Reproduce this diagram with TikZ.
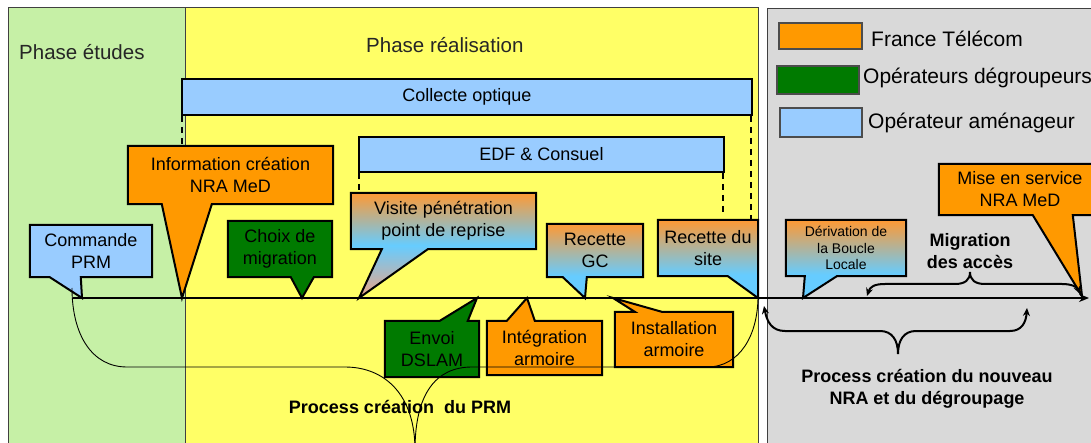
\documentclass[tikz,border=0pt]{standalone}
\usepackage{fontspec}
\setmainfont{Liberation Sans}
\usetikzlibrary{arrows.meta,calc}
\definecolor{bgGreen}{HTML}{C6F0A6}
\definecolor{bgYellow}{HTML}{FFFF66}
\definecolor{bgGray}{HTML}{D9D9D9}
\definecolor{ftOrange}{HTML}{FF9900}
\definecolor{opGreen}{HTML}{007A00}
\definecolor{amBlue}{HTML}{99CCFF}
\definecolor{grOrange}{HTML}{FF9933}
\definecolor{grBlue}{HTML}{66CCFF}
\definecolor{grSalmon}{HTML}{EFA585}
\pgfdeclareverticalshading{ftam}{100bp}{color(0bp)=(grBlue); color(25bp)=(grBlue); color(40bp)=(grBlue); color(75bp)=(grOrange); color(100bp)=(grOrange)}
\pgfdeclareverticalshading{ftamv}{100bp}{color(0bp)=(grSalmon); color(25bp)=(grSalmon); color(50bp)=(grBlue); color(75bp)=(grOrange); color(100bp)=(grOrange)}
\pgfdeclarelayer{bg}
\pgfdeclarelayer{shapes}
\pgfsetlayers{bg,shapes,main}
\begin{document}
\begin{tikzpicture}[x=1pt,y=-1pt,
  txt/.style={font=\fontsize{18}{22}\selectfont, align=center, inner sep=0pt, text=black},
  btxt/.style={font=\fontsize{18}{22}\selectfont\bfseries, align=center, inner sep=0pt},
  smalltxt/.style={font=\fontsize{14}{16.5}\selectfont, align=center, inner sep=0pt},
  cshape/.style={draw=black, line width=2pt, line join=miter},
  bar/.style={draw=black, line width=2pt, fill=amBlue, inner sep=0pt, font=\fontsize{18}{22}\selectfont},
  dashline/.style={line width=2pt, dash pattern=on 6pt off 5pt},
  legbox/.style={draw=black!70, line width=1.2pt, inner sep=0pt},
  legtxt/.style={font=\fontsize{21}{25}\selectfont, anchor=west, inner sep=0pt},
  phasetxt/.style={font=\fontsize{20.5}{24}\selectfont, text=black!85, anchor=west, inner sep=0pt},
  region/.style={draw=black!75, line width=0.8pt},
  curlyarrow/.style={line width=2pt, {Stealth[length=8pt,width=7pt]}-{Stealth[length=8pt,width=7pt]}},
  thinc/.style={line width=0.9pt},
]
\useasboundingbox (0,0) rectangle (1091,443);

% ---------- background regions ----------
\begin{pgfonlayer}{bg}
\fill[white] (0,0) rectangle (1091,443);
\filldraw[region, fill=bgGreen] (8,7) rectangle (185,460);
\filldraw[region, fill=bgYellow] (185,7) rectangle (758,460);
\filldraw[region, fill=bgGray] (767,8) rectangle (1110,460);
\end{pgfonlayer}

\node[phasetxt] (ph1) at (19,52) {Phase études};
\node[phasetxt] (ph2) at (366,45) {Phase réalisation};

% ---------- legend ----------
\node[legbox, fill=ftOrange, minimum width=83pt, minimum height=26pt] (lg1) at (820.5,36) {};
\node[legtxt] (lt1) at (871,39) {France Télécom};
\node[legbox, fill=opGreen, minimum width=82pt, minimum height=28pt] (lg2) at (818,80) {};
\node[legtxt] (lt2) at (863,78) {Opérateurs dégroupeurs};
\node[legbox, fill=amBlue, minimum width=82pt, minimum height=29pt] (lg3) at (821,122.5) {};
\node[legtxt] (lt3) at (868,123) {Opérateur aménageur};

% ---------- bars ----------
\node[bar, minimum width=570pt, minimum height=36pt] (coll) at (467,97) {Collecte optique};
\node[bar, minimum width=365pt, minimum height=35pt] (edf) at (541.5,154.5) {EDF \& Consuel};

% ---------- callout anchors (rectangles) ----------
\node[txt, minimum width=122pt, minimum height=52pt] (cmd) at (91,251) {Commande\\PRM};
\node[txt, minimum width=205pt, minimum height=58pt] (info) at (230.5,175) {Information création\\NRA MeD};
\node[txt, minimum width=104pt, minimum height=56pt] (choix) at (280,249) {Choix de\\migration};
\node[txt, minimum width=185pt, minimum height=56pt] (visite) at (443.5,221) {Visite pénétration\\point de reprise};
\node[txt, minimum width=96pt, minimum height=53pt] (rgc) at (595,250.5) {Recette\\GC};
\node[txt, minimum width=100pt, minimum height=56pt] (rsite) at (708,248) {Recette du\\site};
\node[smalltxt, minimum width=120pt, minimum height=56pt] (deriv) at (846,248) {Dérivation de\\la Boucle\\Locale};
\node[txt, minimum width=162pt, minimum height=51pt] (mes) at (1020,189.5) {Mise en service\\NRA MeD};
\node[txt, minimum width=94pt, minimum height=56pt] (envoi) at (432,349) {Envoi\\DSLAM};
\node[txt, minimum width=115pt, minimum height=54pt] (integ) at (544.5,348) {Intégration\\armoire};
\node[txt, minimum width=118pt, minimum height=55pt] (inst) at (674,339.5) {Installation\\armoire};

% pointer tips on the time line
\coordinate (tcmd) at (82,298);
\coordinate (tinfo) at (182,298);
\coordinate (tchoix) at (302,298);
\coordinate (tvisite) at (359,298);
\coordinate (trgc) at (585,298);
\coordinate (trsite) at (758,298);
\coordinate (tderiv) at (803,298);
\coordinate (tmes) at (1082,296);
\coordinate (tenvoi) at (477,298);
\coordinate (tinteg) at (527,298);
\coordinate (tinst) at (613,298);

\begin{pgfonlayer}{shapes}
% pointers downward
\filldraw[cshape, fill=amBlue] (cmd.north west) -- (cmd.north east) -- (cmd.south east)
  -- ($(cmd.south west)+(51,0)$) -- (tcmd) -- ($(cmd.south west)+(20,0)$) -- (cmd.south west) -- cycle;
\filldraw[cshape, fill=ftOrange] (info.north west) -- (info.north east) -- (info.south east)
  -- ($(info.south west)+(84,0)$) -- (tinfo) -- ($(info.south west)+(34,0)$) -- (info.south west) -- cycle;
\filldraw[cshape, fill=opGreen] (choix.north west) -- (choix.north east) -- (choix.south east)
  -- ($(choix.south west)+(86,0)$) -- (tchoix) -- ($(choix.south west)+(63,0)$) -- (choix.south west) -- cycle;
\shadedraw[cshape, shading=ftamv] (visite.north west) -- (visite.north east) -- (visite.south east)
  -- ($(visite.south west)+(77,0)$) -- (tvisite) -- ($(visite.south west)+(31,0)$) -- (visite.south west) -- cycle;
\shadedraw[cshape, shading=ftam] (rgc.north west) -- (rgc.north east) -- (rgc.south east)
  -- ($(rgc.south west)+(40,0)$) -- (trgc) -- ($(rgc.south west)+(16,0)$) -- (rgc.south west) -- cycle;
\shadedraw[cshape, shading=ftam] (rsite.north west) -- (rsite.north east) -- (trsite)
  -- ($(rsite.south west)+(70,0)$) -- (rsite.south west) -- cycle;
\shadedraw[cshape, shading=ftam] (deriv.north west) -- (deriv.north east) -- (deriv.south east)
  -- ($(deriv.south west)+(51,0)$) -- (tderiv) -- ($(deriv.south west)+(19,0)$) -- (deriv.south west) -- cycle;
\filldraw[cshape, fill=ftOrange] (mes.north west) -- (mes.north east) -- (mes.south east)
  -- ($(mes.south west)+(134,0)$) -- (tmes) -- ($(mes.south west)+(94,0)$) -- (mes.south west) -- cycle;
% pointers upward
\filldraw[cshape, fill=opGreen] (envoi.south west) -- (envoi.north west) -- ($(envoi.north west)+(55,0)$)
  -- (tenvoi) -- ($(envoi.north west)+(83,0)$) -- (envoi.north east) -- (envoi.south east) -- cycle;
\filldraw[cshape, fill=ftOrange] (integ.south west) -- (integ.north west) -- ($(integ.north west)+(20,0)$)
  -- (tinteg) -- ($(integ.north west)+(48,0)$) -- (integ.north east) -- (integ.south east) -- cycle;
\filldraw[cshape, fill=ftOrange] (inst.south west) -- (inst.north west) -- ($(inst.north west)+(20,0)$)
  -- (tinst) -- ($(inst.north west)+(47,0)$) -- (inst.north east) -- (inst.south east) -- cycle;
\end{pgfonlayer}

% ---------- dashed links ----------
\coordinate (cl) at ($(coll.south west)+(1,0)$);
\coordinate (cr) at ($(coll.south east)+(-2,0)$);
\coordinate (el) at ($(edf.south west)+(1,0)$);
\coordinate (er) at ($(edf.south east)+(-2,0)$);
\draw[dashline] (cl) -- (cl |- info.north);
\draw[dashline] (cr) -- (cr |- rsite.north);
\draw[dashline] (el) -- (el |- visite.north);
\draw[dashline] (er) -- ($(er |- rsite.north)+(0,-4)$);

% ---------- time line ----------
\coordinate (tl0) at (73,298);
\coordinate (tl1) at (1089,298);
\draw[line width=2pt, -{Stealth[length=10pt,width=8pt]}] (tl0) -- (tl1);

% ---------- thin brace-like curve ----------
\coordinate (c0) at (72,288);
\coordinate (cbot) at (415,450);
\coordinate (c1) at (758,296);
\draw[thinc] (c0) .. controls (72,335) and (92,367) .. (127,367) -- (345,367)
  .. controls (385,367) and (415,395) .. (cbot);
\draw[thinc] (cbot) .. controls (415,395) and (435,367) .. (472,367) -- (707,367)
  .. controls (740,367) and (758,335) .. (c1);

% ---------- curly arrows ----------
\coordinate (ma) at (867,296);
\coordinate (mb) at (1080,294);
\draw[curlyarrow] (ma) .. controls (870,287) and (874,284) .. (885,284) -- (955,284)
  .. controls (965,284) and (970,280) .. (970,272)
  .. controls (970,280) and (975,284) .. (985,284) -- (1062,284)
  .. controls (1072,284) and (1077,287) .. (mb);
\coordinate (pa) at (764,306);
\coordinate (pb) at (1027,308);
\draw[curlyarrow] (pa) .. controls (767,322) and (772,331) .. (785,331) -- (880,331)
  .. controls (892,331) and (898,340) .. (898,354)
  .. controls (898,340) and (904,331) .. (916,331) -- (1010,331)
  .. controls (1022,331) and (1026,322) .. (pb);

% ---------- labels ----------
\node[btxt] (mig) at (970,251) {Migration\\des accès};
\node[btxt] (pnra) at (927,389) {Process création du nouveau\\NRA et du dégroupage};
\node[btxt] (pprm) at (400,407) {Process création\ \ du PRM};
\end{tikzpicture}
\end{document}
